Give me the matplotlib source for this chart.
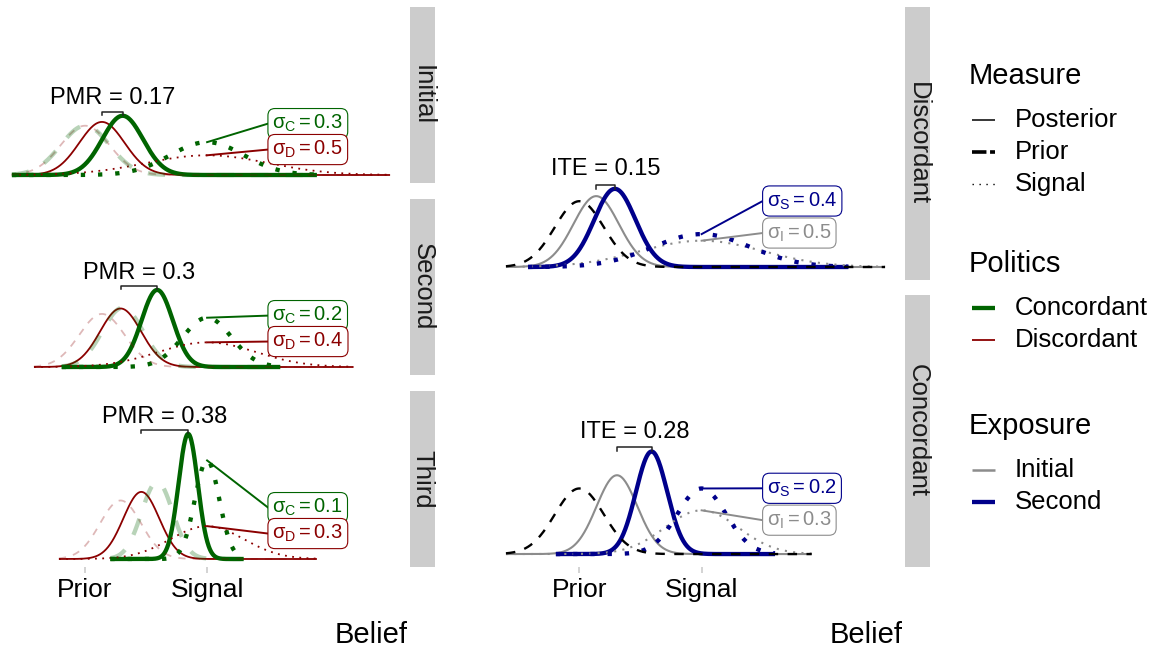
import numpy as np
import matplotlib
matplotlib.use('Agg')
import matplotlib.pyplot as plt
from matplotlib.patches import Rectangle

plt.rcParams['font.family'] = ['Liberation Sans', 'DejaVu Sans']
plt.rcParams['mathtext.fontset'] = 'custom'
plt.rcParams['mathtext.rm'] = 'Liberation Sans'
plt.rcParams['mathtext.it'] = 'Liberation Sans:italic'

# values
prior_mean = 0.0
prior_sd = 0.2
signal_mean = 1.0
rounds = ['Initial', 'Second', 'Third']
sigma_concordant = [0.3, 0.2, 0.1]
sigma_discordant = [0.5, 0.4, 0.3]
pmr_text = ['0.17', '0.3', '0.38']
exposure_rows = ['Discordant', 'Concordant']
ite_text = ['0.15', '0.28']
tick_pos = [prior_mean, signal_mean]
tick_labels = ['Prior', 'Signal']

measures = ['Posterior', 'Prior', 'Signal']
politics = ['Concordant', 'Discordant']
exposures = ['Initial', 'Second']

GREEN = '#006400'
RED = '#8b0000'
BLUE = '#00008b'
GREY = '#8c8c8c'
STRIP = '#cccccc'


def update(m, s, s_sig):
    # normal prior x normal signal -> normal posterior
    w = s**2 / (s**2 + s_sig**2)
    return m + w * (signal_mean - m), np.sqrt(1 / (1 / s**2 + 1 / s_sig**2))


def dnorm(x, m, s):
    return np.exp(-0.5 * ((x - m) / s) ** 2) / (s * np.sqrt(2 * np.pi))


# sequential updating for each group
chains = {}
for name, sigmas in [('Concordant', sigma_concordant), ('Discordant', sigma_discordant)]:
    m, s = prior_mean, prior_sd
    steps = []
    for sg in sigmas:
        pm, ps = update(m, s, sg)
        steps.append({'prior': (m, s), 'sig': sg, 'post': (pm, ps)})
        m, s = pm, ps
    chains[name] = steps

W, H = 1156, 648
fig = plt.figure(figsize=(W / 100, H / 100), dpi=100)


def px_axes(l, t, r, b):
    ax = fig.add_axes([l / W, 1 - b / H, (r - l) / W, (b - t) / H])
    ax.patch.set_alpha(0)
    for sp in ax.spines.values():
        sp.set_visible(False)
    ax.set_xticks([])
    ax.set_yticks([])
    return ax


def strip(l, t, r, b, label):
    fig.add_artist(Rectangle((l / W, 1 - b / H), (r - l) / W, (b - t) / H,
                             transform=fig.transFigure, color=STRIP, lw=0))
    fig.text((l + r) / 2 / W, 1 - (t + b) / 2 / H, label, rotation=-90,
             ha='center', va='center', fontsize=18.5, color='#1a1a1a')


def bottom_ticks(ax):
    ax.set_xticks(tick_pos, tick_labels)
    ax.tick_params(axis='x', length=4.3, width=1.2, color=STRIP, labelsize=19,
                   pad=3.5, labelcolor='black')


def draw_curves(ax, layers):
    # layers: list of (measure, x, y, color, lw, alpha)
    order = {'Posterior': 0, 'Signal': 1, 'Prior': 2}
    for meas, x, y, col, lw, alpha in sorted(layers, key=lambda t: order[t[0]]):
        if meas == 'Posterior':
            ax.plot(x, y, color=col, lw=lw, alpha=alpha, solid_capstyle='butt')
        elif meas == 'Prior':
            ax.plot(x, y, color=col, lw=lw, alpha=alpha, ls=(0, (4, 4)))
        else:
            ax.plot(x, y, color=col, lw=lw, alpha=alpha, ls=(0, (1, 3)))


def label_box(ax, y_peak, y_lab, text, col, tc=None):
    ax.plot([signal_mean, 1.5], [y_peak, y_lab], color=col, lw=1.4)
    ax.text(1.535, y_lab, text, ha='left', va='center', fontsize=14.5, color=tc or col,
            bbox=dict(boxstyle='round,pad=0.22,rounding_size=0.35', fc='white', ec=col, lw=0.8))


def bracket(ax, lo, hi, y_top, label, off_b, off_t, tick):
    yb = y_top + off_b
    ax.plot([lo, lo, hi, hi], [yb - tick, yb, yb, yb - tick], color='#222222', lw=1.1)
    ax.text((lo + hi) / 2, y_top + off_t, label, ha='center', va='center', fontsize=17)


XLIM = (-0.755, 2.655)

# ---- left panel: rounds ----
row_px = [(7, 183), (199, 375), (391, 567)]
for r, (t, b) in enumerate(row_px):
    ax = px_axes(-7, t, 409, b)
    ax.set_xlim(*XLIM)
    ax.set_ylim(-0.324, 6.8)
    layers = []
    peaks = {}
    for name, col, lw in [('Discordant', RED, 1.3), ('Concordant', GREEN, 3.1)]:
        st = chains[name][r]
        pm, ps = st['prior']
        x = np.linspace(pm - 3 * ps, signal_mean + 3 * st['sig'], 500)
        layers.append(('Posterior', x, dnorm(x, *st['post']), col, lw, 1))
        layers.append(('Signal', x, dnorm(x, signal_mean, st['sig']), col, lw, 1))
        layers.append(('Prior', x, dnorm(x, pm, ps), col, lw, 0.28))
        peaks[name] = dnorm(st['post'][0], *st['post'])
    draw_curves(ax, layers)
    sc, sd = chains['Concordant'][r]['sig'], chains['Discordant'][r]['sig']
    label_box(ax, dnorm(signal_mean, signal_mean, sc), 2.08,
              r'$\mathregular{\sigma_C = %s}$' % sc, GREEN)
    label_box(ax, dnorm(signal_mean, signal_mean, sd), 1.03,
              r'$\mathregular{\sigma_D = %s}$' % sd, RED)
    top = max(peaks.values())
    bracket(ax, chains['Discordant'][r]['post'][0], chains['Concordant'][r]['post'][0],
            top, 'PMR = ' + pmr_text[r], 0.17, 0.7, 0.15)
    strip(410, t, 435, b, rounds[r])
    if r == len(rounds) - 1:
        bottom_ticks(ax)

# ---- right panel: exposure ----
row_px_r = [(7, 280), (295, 567)]
for r, (t, b) in enumerate(row_px_r):
    name = exposure_rows[r]
    ax = px_axes(487, t, 904, b)
    ax.set_xlim(*XLIM)
    ax.set_ylim(-0.394, 7.88)
    first, second = chains[name][0], chains[name][1]
    layers = []
    x1 = np.linspace(prior_mean - 3 * prior_sd, signal_mean + 3 * first['sig'], 500)
    layers.append(('Posterior', x1, dnorm(x1, *first['post']), GREY, 1.5, 1))
    layers.append(('Signal', x1, dnorm(x1, signal_mean, first['sig']), GREY, 1.5, 1))
    layers.append(('Prior', x1, dnorm(x1, *first['prior']), 'black', 1.7, 1))
    pm, ps = second['prior']
    x2 = np.linspace(pm - 3 * ps, signal_mean + 3 * second['sig'], 500)
    layers.append(('Posterior', x2, dnorm(x2, *second['post']), BLUE, 3.1, 1))
    layers.append(('Signal', x2, dnorm(x2, signal_mean, second['sig']), BLUE, 3.1, 1))
    draw_curves(ax, layers)
    label_box(ax, dnorm(signal_mean, signal_mean, second['sig']), 2.0,
              r'$\mathregular{\sigma_S = %s}$' % second['sig'], BLUE)
    label_box(ax, dnorm(signal_mean, signal_mean, first['sig']), 1.03,
              r'$\mathregular{\sigma_I = %s}$' % first['sig'], GREY)
    top = dnorm(second['post'][0], *second['post'])
    bracket(ax, first['post'][0], second['post'][0], top, 'ITE = ' + ite_text[r],
            0.13, 0.6, 0.12)
    strip(905, t, 930, b, name)
    if r == len(exposure_rows) - 1:
        bottom_ticks(ax)

fig.text(408 / W, 1 - 643 / H, 'Belief', ha='right', va='baseline', fontsize=21)
fig.text(903 / W, 1 - 643 / H, 'Belief', ha='right', va='baseline', fontsize=21)

# ---- legends ----
lax = fig.add_axes([0, 0, 1, 1])
lax.set_xlim(0, W)
lax.set_ylim(H, 0)
lax.axis('off')

legend_groups = [
    ('Measure', 76, [(measures[0], 'black', 1.1, '-'),
                     (measures[1], 'black', 2.6, (0, (4, 1))),
                     (measures[2], 'black', 1.0, (0, (1, 4)))]),
    ('Politics', 264, [(politics[0], GREEN, 3.1, '-'),
                       (politics[1], RED, 1.3, '-')]),
    ('Exposure', 426, [(exposures[0], GREY, 1.8, '-'),
                       (exposures[1], BLUE, 3.1, '-')]),
]
for title, ty, items in legend_groups:
    lax.text(969, ty, title, ha='left', va='center', fontsize=21)
    for i, (lab, col, lw, ls) in enumerate(items):
        yy = ty + 44 + 32 * i
        lax.plot([972, 995], [yy, yy], color=col, lw=lw, ls=ls, solid_capstyle='butt')
        lax.text(1015, yy, lab, ha='left', va='center', fontsize=18.5)

fig.savefig('out.png', dpi=100)
